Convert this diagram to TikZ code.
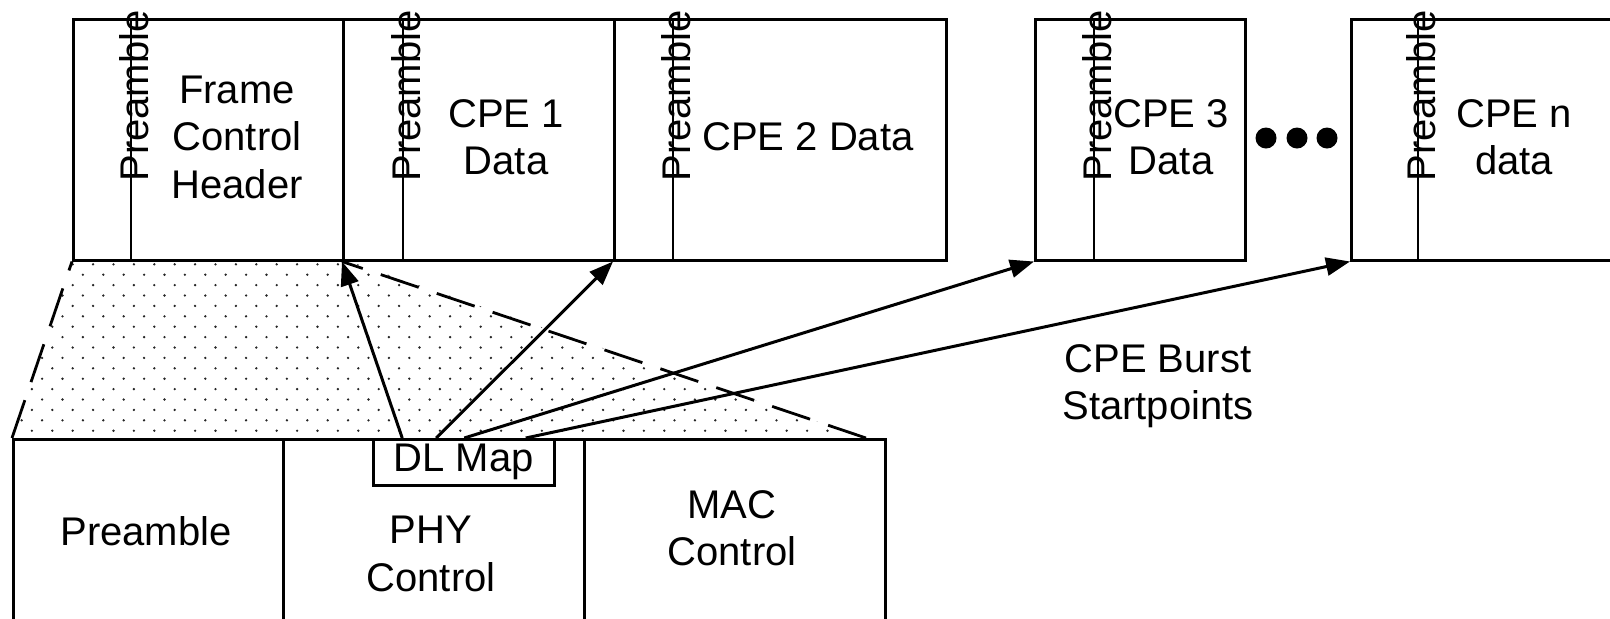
\documentclass[tikz,border=0pt]{standalone}
\usepackage{fontspec}
\setmainfont{Liberation Sans}
\usetikzlibrary{arrows.meta}
\begin{document}
\begin{tikzpicture}[x=0.5pt,y=-0.5pt,
  box/.style={draw, line width=1.25pt, inner sep=0pt, anchor=north west},
  lbl/.style={font=\fontsize{20}{23.75}\selectfont, align=center, inner sep=0pt},
  pre/.style={font=\fontsize{20}{22}\selectfont, rotate=90, inner sep=0pt},
  arr/.style={line width=1.5pt, -{Triangle[length=12pt,width=9pt]}},
  dsh/.style={line width=1.4pt, dash pattern=on 20pt off 9.5pt},
  sep/.style={line width=1.25pt},
  dotc/.style={fill=black!85},
  bigdot/.style={circle, fill=black, inner sep=0pt, minimum size=10.5pt},
]
\useasboundingbox (0,0) rectangle (1610,618);

% dotted area between the two rows
\begin{scope}
\clip (72,259) -- (342,259) -- (866,438) -- (12,438) -- cycle;
\foreach \r in {0,...,17}{
  \pgfmathsetmacro\yy{264.3+\r*10.4}
  \pgfmathsetmacro\xo{11.5+mod(\r,2)*10.2}
  \foreach \c in {0,...,42}{
    \fill[dotc] (\xo+\c*20.4,\yy) circle[radius=0.65pt];
  }
}
\end{scope}

% top row of bursts
\node[box, minimum width=135pt, minimum height=120.5pt] (b1) at (72,18) {};
\node[box, minimum width=135.5pt, minimum height=120.5pt] (b2) at (342,18) {};
\node[box, minimum width=166pt, minimum height=120.5pt] (b3) at (613,18) {};
\node[box, minimum width=105pt, minimum height=120.5pt] (b4) at (1034,18) {};
\node[box, minimum width=150pt, minimum height=120.5pt] (b5) at (1350,18) {};

% preamble separators
\draw[sep] (131,18) -- (131,259);
\draw[sep] (403,18) -- (403,259);
\draw[sep] (673,18) -- (673,259);
\draw[sep] (1094,18) -- (1094,259);
\draw[sep] (1418,18) -- (1418,259);

\node[pre] (p1) at (134.5,96) {Preamble};
\node[pre] (p2) at (406.5,96) {Preamble};
\node[pre] (p3) at (676.5,96) {Preamble};
\node[pre] (p4) at (1097.5,96) {Preamble};
\node[pre] (p5) at (1421.5,96) {Preamble};

\node[lbl] (t1) at (237,137) {Frame\\Control\\Header};
\node[lbl] (t2) at (506,137) {CPE 1\\Data};
\node[lbl] (t3) at (808,137) {CPE 2 Data};
\node[lbl] (t4) at (1171,137) {CPE 3\\Data};
\node[lbl] (t5) at (1514,137) {CPE n\\data};

\node[bigdot] (d1) at (1266,138) {};
\node[bigdot] (d2) at (1297,138) {};
\node[bigdot] (d3) at (1327,138) {};

% bottom row
\node[box, minimum width=135pt, minimum height=115pt] (c1) at (12,438) {};
\node[box, minimum width=150.5pt, minimum height=115pt] (c2) at (282,438) {};
\node[box, minimum width=150.5pt, minimum height=115pt] (c3) at (583,438) {};

\node[lbl] (u1) at (146,531) {Preamble};
\node[lbl] (u2) at (431,554) {PHY\\Control};
\node[lbl] (u3) at (732,528) {MAC\\Control};

\node[box, minimum width=90.5pt, minimum height=23pt, font=\fontsize{20}{24}\selectfont] (dl) at (372,438) {DL Map};

% dashed edges of the expansion
\coordinate (dend) at (866,438);
\draw[dsh] (c1.north west) -- (b1.south west);
\draw[dsh] (dend) -- (b2.south west);

% burst start pointers
\draw[arr] ([xshift=-30.75pt]dl.north) -- (b2.south west);
\draw[arr] ([xshift=-13.75pt]dl.north) -- (b3.south west);
\draw[arr] ([xshift=0.25pt]dl.north) -- (b4.south west);
\draw[arr] ([xshift=31pt]dl.north) -- (b5.south west);

\node[lbl] (burst) at (1158,386) {CPE Burst\\Startpoints};
\end{tikzpicture}
\end{document}
